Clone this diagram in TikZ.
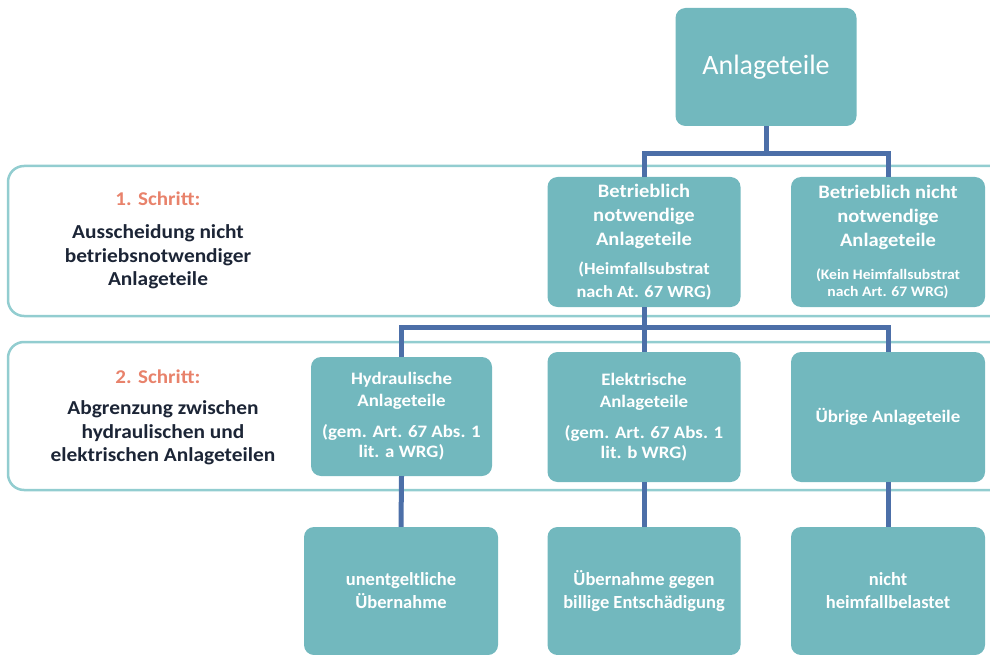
\documentclass[tikz,border=0pt]{standalone}
\usepackage{fontspec}
\setmainfont{Carlito}
\newfontfamily\wfont{Carlito}[FakeStretch=1.08]
\usetikzlibrary{calc}
\definecolor{boxc}{HTML}{72B8BE}
\definecolor{linec}{HTML}{4C6FA8}
\definecolor{bandc}{HTML}{92CDD0}
\definecolor{stepc}{HTML}{E8826B}
\definecolor{txtc}{HTML}{1C2536}
\tikzset{
  box/.style={rounded corners=10pt, fill=boxc, text=white, align=center, inner sep=0pt, draw=none},
  conn/.style={draw=linec, line width=5pt},
  band/.style={draw=bandc, line width=2.5pt, rounded corners=16pt},
  steplbl/.style={text=stepc, font=\wfont\bfseries\fontsize{19.5}{23}\selectfont},
  desc/.style={text=txtc, align=center, font=\wfont\bfseries\fontsize{19.8}{23.5}\selectfont},
  mainf/.style={font=\wfont\bfseries\fontsize{19}{24}\selectfont},
  midf/.style={font=\wfont\bfseries\fontsize{17.5}{22}\selectfont},
  lowf/.style={font=\bfseries\fontsize{18.5}{23}\selectfont}
}
\newcommand{\parsm}{\fontsize{17}{21}\selectfont}
\newcommand{\partiny}{\fontsize{14.5}{17.5}\selectfont}
\begin{document}
\begin{tikzpicture}[x=1pt,y=-1pt]
\useasboundingbox (0,0) rectangle (990,655);
\clip (0,0) rectangle (990,655);
% bands
\draw[band] (8,166) rectangle (1020,316);
\draw[band] (8,342) rectangle (1020,490);
% left labels
\node[steplbl] (s1) at (158,199) {1. Schritt:};
\node[desc] (d1) at (158,257) {Ausscheidung nicht\\betriebsnotwendiger\\Anlageteile};
\node[steplbl] (s2) at (158,377) {2. Schritt:};
\node[desc] (d2) at (163,433) {Abgrenzung zwischen\\hydraulischen und\\elektrischen Anlageteilen};
% boxes
\node[box, minimum width=181pt, minimum height=118pt, font=\fontsize{28}{32}\selectfont] (top) at (766,67) {Anlageteile};
\node[box, mainf, minimum width=193pt, minimum height=130pt] (bn) at (644,242)
  {Betrieblich\\notwendige\\Anlageteile\\[5pt]\parsm (Heimfallsubstrat\\[-1pt]\parsm nach At. 67 WRG)};
\node[box, mainf, minimum width=194pt, minimum height=130pt] (bnn) at (888,242)
  {Betrieblich nicht\\notwendige\\Anlageteile\\[9pt]\partiny (Kein Heimfallsubstrat\\[-7pt]\partiny nach Art. 67 WRG)};
\node[box, midf, minimum width=181pt, minimum height=119pt] (hyd) at (401.5,416.5)
  {Hydraulische\\Anlageteile\\[9pt](gem. Art. 67 Abs. 1\\[-2pt]lit. a WRG)};
\node[box, midf, minimum width=193pt, minimum height=130pt] (ele) at (644,417)
  {Elektrische\\Anlageteile\\[9pt](gem. Art. 67 Abs. 1\\[-2pt]lit. b WRG)};
\node[box, midf, minimum width=194pt, minimum height=130pt] (ueb) at (888,417)
  {Übrige Anlageteile};
\node[box, lowf, minimum width=194pt, minimum height=128pt] (une) at (401,591)
  {unentgeltliche\\Übernahme};
\node[box, lowf, minimum width=193pt, minimum height=128pt] (uge) at (644,591)
  {Übernahme gegen\\billige Entschädigung};
\node[box, lowf, minimum width=194pt, minimum height=128pt] (nhb) at (888,591)
  {nicht\\heimfallbelastet};
% connectors
\coordinate (j1) at (766,154);
\coordinate (j2) at (644,327);
\draw[conn] (top.south) -- (j1);
\draw[conn] (bn.north) |- (j1) -| (bnn.north);
\draw[conn] (bn.south) -- (j2);
\draw[conn] (hyd.north) |- (j2) -| (ueb.north);
\draw[conn] (ele.north) -- (j2);
\draw[conn] (hyd.south) -- (une.north);
\draw[conn] (ele.south) -- (uge.north);
\draw[conn] (ueb.south) -- (nhb.north);
\end{tikzpicture}
\end{document}
